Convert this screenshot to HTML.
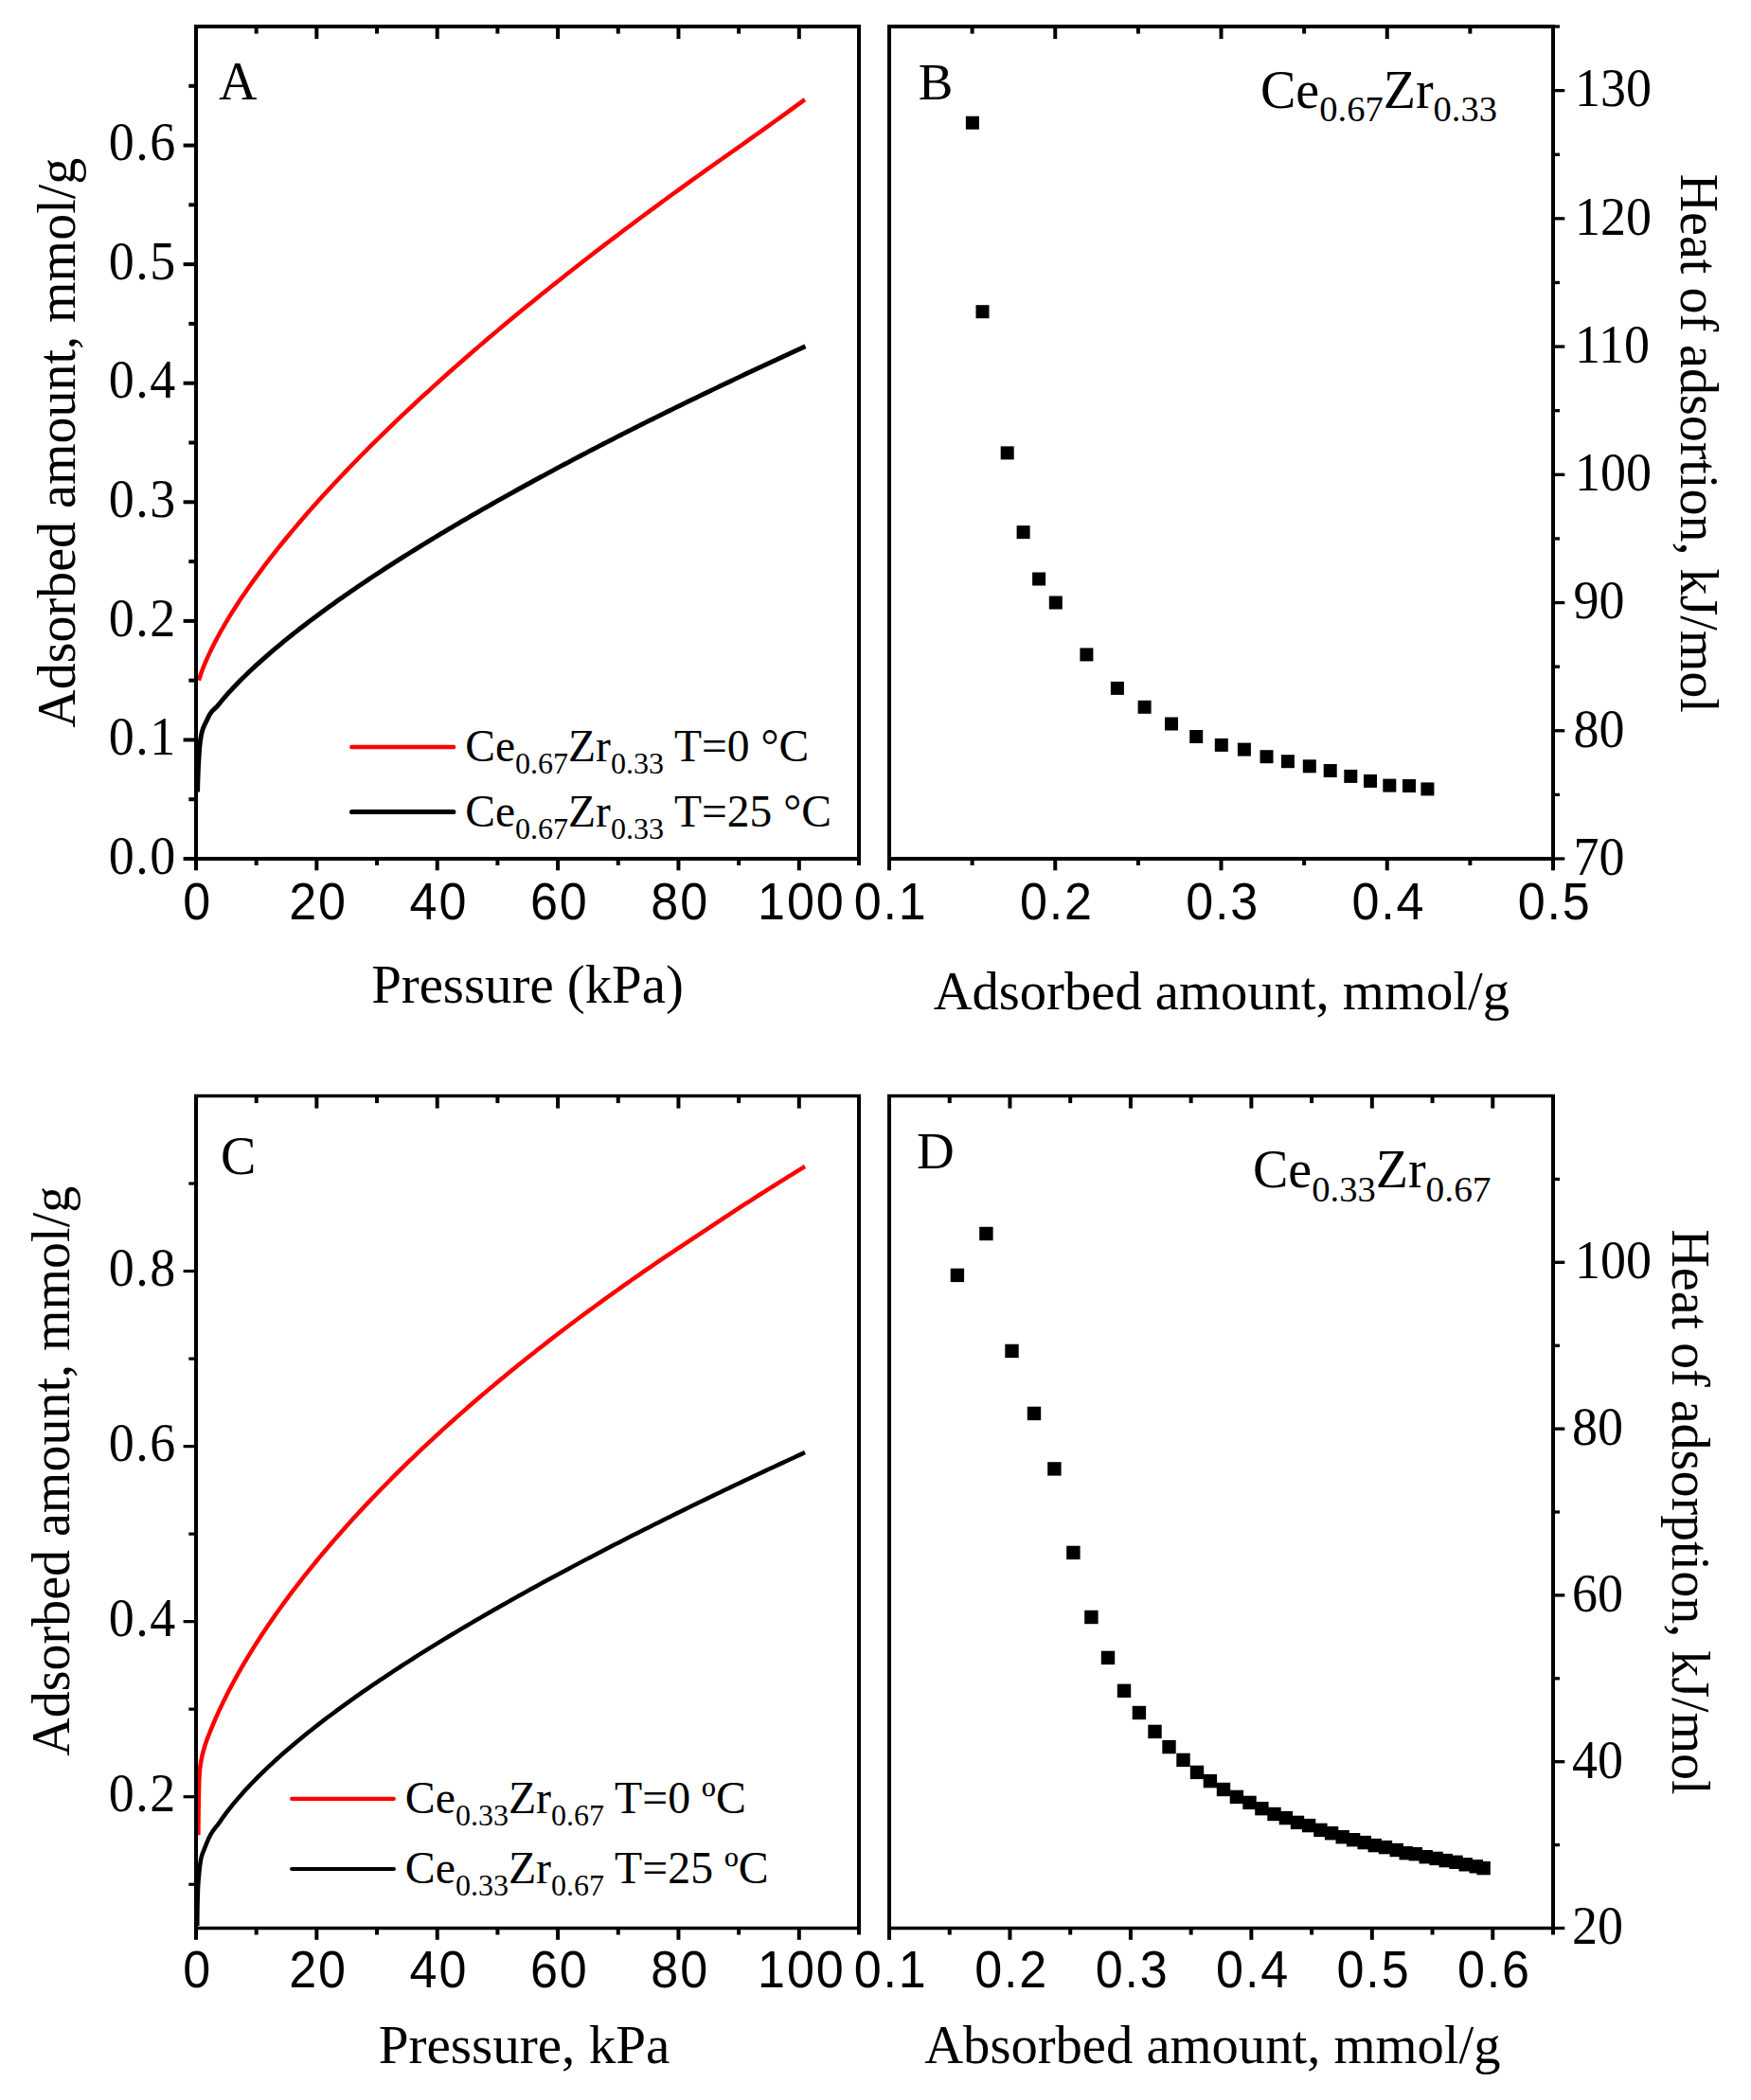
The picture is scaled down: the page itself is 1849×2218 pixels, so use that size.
<!DOCTYPE html>
<html lang="en"><head><meta charset="utf-8"><title>Adsorption isotherms and heat of adsorption</title>
<style>
html,body{margin:0;padding:0;background:#fff;}
svg{display:block;}
text{fill:#000;}
</style></head><body>
<svg width="1849" height="2218" viewBox="0 0 1849 2218">
<rect width="1849" height="2218" fill="#fff"/>
<text transform="translate(208.7 970.5) scale(0.94 1)" font-family='"Liberation Sans", sans-serif' font-size="55.4" text-anchor="middle" letter-spacing="1.97">0</text>
<text transform="translate(336.06 970.5) scale(0.94 1)" font-family='"Liberation Sans", sans-serif' font-size="55.4" text-anchor="middle" letter-spacing="1.97">20</text>
<text transform="translate(463.42 970.5) scale(0.94 1)" font-family='"Liberation Sans", sans-serif' font-size="55.4" text-anchor="middle" letter-spacing="1.97">40</text>
<text transform="translate(590.78 970.5) scale(0.94 1)" font-family='"Liberation Sans", sans-serif' font-size="55.4" text-anchor="middle" letter-spacing="1.97">60</text>
<text transform="translate(718.14 970.5) scale(0.94 1)" font-family='"Liberation Sans", sans-serif' font-size="55.4" text-anchor="middle" letter-spacing="1.97">80</text>
<text transform="translate(846.3 970.5) scale(0.94 1)" font-family='"Liberation Sans", sans-serif' font-size="55.4" text-anchor="middle" letter-spacing="1.97">100</text>
<text transform="translate(186.7 922.7) scale(0.975 1.04)" font-family='"Liberation Serif", serif' font-size="55.4" text-anchor="end" letter-spacing="1.5">0.0</text>
<text transform="translate(186.7 797.13) scale(0.975 1.04)" font-family='"Liberation Serif", serif' font-size="55.4" text-anchor="end" letter-spacing="1.5">0.1</text>
<text transform="translate(186.7 671.56) scale(0.975 1.04)" font-family='"Liberation Serif", serif' font-size="55.4" text-anchor="end" letter-spacing="1.5">0.2</text>
<text transform="translate(186.7 545.99) scale(0.975 1.04)" font-family='"Liberation Serif", serif' font-size="55.4" text-anchor="end" letter-spacing="1.5">0.3</text>
<text transform="translate(186.7 420.41) scale(0.975 1.04)" font-family='"Liberation Serif", serif' font-size="55.4" text-anchor="end" letter-spacing="1.5">0.4</text>
<text transform="translate(186.7 294.84) scale(0.975 1.04)" font-family='"Liberation Serif", serif' font-size="55.4" text-anchor="end" letter-spacing="1.5">0.5</text>
<text transform="translate(186.7 169.27) scale(0.975 1.04)" font-family='"Liberation Serif", serif' font-size="55.4" text-anchor="end" letter-spacing="1.5">0.6</text>
<text x="231" y="105" font-family='"Liberation Serif", serif' font-size="56" text-anchor="start">A</text>
<text x="557" y="1058.6" font-family='"Liberation Serif", serif' font-size="56.8" text-anchor="middle">Pressure (kPa)</text>
<text x="79" y="467.7" font-family='"Liberation Serif", serif' font-size="56" text-anchor="middle" transform="rotate(-90 79 467.7)">Adsorbed amount, mmol/g</text>
<path d="M209.9 718.62 L210.59 716.38 L211.29 714.25 L211.98 712.22 L212.68 710.26 L213.37 708.38 L214.07 706.55 L214.76 704.77 L215.46 703.04 L216.15 701.34 L216.85 699.69 L217.54 698.06 L218.24 696.47 L218.93 694.9 L219.63 693.36 L220.32 691.84 L221.02 690.35 L221.71 688.88 L222.41 687.42 L223.1 685.99 L223.8 684.57 L224.49 683.17 L225.19 681.79 L225.88 680.42 L226.58 679.07 L227.27 677.73 L227.97 676.4 L228.66 675.09 L229.36 673.78 L230.05 672.49 L230.75 671.21 L231.44 669.94 L232.14 668.69 L232.83 667.44 L233.53 666.2 L234.22 664.97 L234.92 663.75 L235.61 662.54 L236.31 661.34 L237 660.14 L238 658.44 L243.14 649.91 L248.28 641.73 L253.43 633.85 L258.57 626.21 L263.71 618.8 L268.85 611.59 L273.99 604.55 L279.14 597.67 L284.28 590.94 L289.42 584.34 L294.56 577.86 L299.7 571.49 L304.85 565.23 L309.99 559.07 L315.13 552.99 L320.27 547.01 L325.41 541.1 L330.56 535.28 L335.7 529.52 L340.84 523.84 L345.98 518.22 L351.12 512.66 L356.27 507.17 L361.41 501.73 L366.55 496.35 L371.69 491.02 L376.83 485.74 L381.98 480.5 L387.12 475.32 L392.26 470.18 L397.4 465.08 L402.54 460.03 L407.69 455.02 L412.83 450.04 L417.97 445.11 L423.11 440.21 L428.25 435.35 L433.4 430.52 L438.54 425.73 L443.68 420.97 L448.82 416.24 L453.96 411.54 L459.11 406.87 L464.25 402.23 L469.39 397.62 L474.53 393.04 L479.67 388.49 L484.82 383.96 L489.96 379.46 L495.1 374.98 L500.24 370.53 L505.38 366.11 L510.53 361.71 L515.67 357.33 L520.81 352.97 L525.95 348.64 L531.09 344.32 L536.24 340.03 L541.38 335.76 L546.52 331.51 L551.66 327.29 L556.81 323.08 L561.95 318.89 L567.09 314.72 L572.23 310.56 L577.37 306.43 L582.52 302.32 L587.66 298.22 L592.8 294.14 L597.94 290.08 L603.08 286.03 L608.23 282 L613.37 277.99 L618.51 273.99 L623.65 270.01 L628.79 266.05 L633.94 262.1 L639.08 258.16 L644.22 254.24 L649.36 250.34 L654.5 246.45 L659.65 242.57 L664.79 238.71 L669.93 234.86 L675.07 231.02 L680.21 227.2 L685.36 223.39 L690.5 219.6 L695.64 215.82 L700.78 212.05 L705.92 208.29 L711.07 204.54 L716.21 200.81 L721.35 197.09 L726.49 193.38 L731.63 189.69 L736.78 186 L741.92 182.33 L747.06 178.67 L752.2 175.02 L757.34 171.38 L762.49 167.75 L767.63 164.13 L772.77 160.51 L777.91 156.88 L783.05 153.25 L788.2 149.6 L793.34 145.95 L798.48 142.28 L803.62 138.61 L808.76 134.93 L813.91 131.24 L819.05 127.54 L824.19 123.83 L829.33 120.11 L834.47 116.38 L839.62 112.64 L844.76 108.89 L849.9 105.13" fill="none" stroke="#ff0000" stroke-width="4.5" stroke-linejoin="round"/>
<path d="M208.6 836.5 L208.68 832.34 L208.78 828.18 L208.91 824.01 L209.06 819.85 L209.22 815.7 L209.39 811.54 L209.59 807.38 L209.84 803.22 L210.1 799.07 L210.36 794.91 L210.66 790.76 L211.03 786.62 L211.53 782.48 L212.15 778.37 L212.96 774.27 L214.05 770.28 L215.65 766.45 L217.51 762.69 L219.33 758.91 L221.17 755.13 L223.41 751.73 L226.43 748.85 L229.41 745.91 L232.07 742.71 L234.68 739.46 L237.36 736.27 L240.12 733.16 L242.92 730.08 L245.75 727.03 L248.62 724.01 L251.52 721.02 L254.45 718.07 L257.4 715.13 L260.39 712.23 L263.39 709.35 L266.42 706.5 L269.47 703.66 L272.55 700.86 L275.64 698.07 L278.75 695.3 L281.88 692.56 L285.02 689.83 L288.18 687.12 L291.36 684.43 L294.55 681.76 L297.76 679.11 L300.98 676.47 L304.21 673.85 L307.46 671.24 L310.72 668.65 L313.99 666.08 L317.27 663.52 L320.56 660.97 L323.87 658.44 L327.18 655.92 L330.51 653.42 L333.84 650.93 L337.19 648.45 L340.54 645.98 L343.9 643.53 L347.27 641.08 L350.65 638.65 L354.04 636.23 L357.43 633.82 L360.83 631.43 L364.24 629.04 L367.66 626.66 L371.09 624.3 L374.52 621.94 L377.96 619.59 L381.4 617.26 L384.85 614.93 L388.31 612.61 L391.77 610.3 L395.24 608.01 L398.72 605.71 L402.2 603.43 L405.69 601.16 L409.18 598.89 L412.68 596.64 L416.18 594.39 L419.69 592.15 L423.2 589.92 L426.72 587.69 L430.24 585.48 L433.77 583.27 L437.3 581.06 L440.84 578.87 L444.38 576.68 L447.93 574.5 L451.48 572.33 L455.03 570.16 L458.59 568 L462.15 565.85 L465.72 563.7 L469.29 561.56 L472.86 559.43 L476.44 557.3 L480.02 555.18 L483.61 553.07 L487.2 550.96 L490.79 548.86 L494.39 546.76 L497.99 544.67 L501.59 542.59 L505.2 540.51 L508.81 538.44 L512.42 536.37 L516.03 534.31 L519.65 532.25 L523.28 530.2 L526.9 528.16 L530.53 526.12 L534.16 524.08 L537.79 522.05 L541.43 520.03 L545.07 518.01 L548.71 515.99 L552.36 513.98 L556.01 511.98 L559.66 509.98 L563.31 507.98 L566.97 505.99 L570.63 504.01 L574.29 502.03 L577.95 500.05 L581.62 498.08 L585.28 496.11 L588.96 494.15 L592.63 492.19 L596.3 490.24 L599.98 488.29 L603.66 486.34 L607.34 484.4 L611.03 482.46 L614.71 480.53 L618.4 478.6 L622.09 476.68 L625.79 474.76 L629.48 472.84 L633.18 470.93 L636.88 469.02 L640.58 467.12 L644.28 465.22 L647.99 463.32 L651.7 461.43 L655.41 459.54 L659.12 457.65 L662.83 455.77 L666.54 453.89 L670.26 452.02 L673.98 450.15 L677.7 448.28 L681.42 446.42 L685.15 444.56 L688.87 442.7 L692.6 440.85 L696.33 439 L700.06 437.15 L703.79 435.31 L707.52 433.47 L711.26 431.63 L715 429.8 L718.74 427.97 L722.48 426.14 L726.22 424.32 L729.96 422.5 L733.71 420.69 L737.45 418.87 L741.2 417.06 L744.95 415.25 L748.7 413.45 L752.46 411.65 L756.21 409.85 L759.97 408.06 L763.72 406.26 L767.48 404.47 L771.24 402.69 L775 400.91 L778.76 399.13 L782.53 397.35 L786.29 395.57 L790.06 393.8 L793.83 392.03 L797.6 390.27 L801.37 388.5 L805.14 386.74 L808.91 384.99 L812.69 383.23 L816.46 381.48 L820.24 379.73 L824.02 377.98 L827.8 376.24 L831.58 374.5 L835.36 372.76 L839.14 371.02 L842.93 369.29 L846.71 367.56 L850.5 365.83" fill="none" stroke="#000" stroke-width="4.9" stroke-linejoin="round" stroke-linecap="butt"/>
<line x1="371.3" y1="789" x2="479.1" y2="789" stroke="#ff0000" stroke-width="4.4" stroke-linecap="round"/>
<line x1="371.6" y1="857.5" x2="478.8" y2="857.5" stroke="#000" stroke-width="5.2" stroke-linecap="round"/>
<text x="491.25" y="804.2" font-family='"Liberation Serif", serif' font-size="47.5" text-anchor="start">Ce<tspan font-size="30.5" dy="12.8" textLength="56.1" lengthAdjust="spacingAndGlyphs">0.67</tspan><tspan dy="-12.8">Zr</tspan><tspan font-size="30.5" dy="12.8" textLength="56.1" lengthAdjust="spacingAndGlyphs">0.33</tspan><tspan dy="-12.8"> T=0 °C</tspan></text>
<text x="491.25" y="873" font-family='"Liberation Serif", serif' font-size="47.5" text-anchor="start">Ce<tspan font-size="30.5" dy="12.8" textLength="56.1" lengthAdjust="spacingAndGlyphs">0.67</tspan><tspan dy="-12.8">Zr</tspan><tspan font-size="30.5" dy="12.8" textLength="56.1" lengthAdjust="spacingAndGlyphs">0.33</tspan><tspan dy="-12.8"> T=25 °C</tspan></text>
<text transform="translate(940.7 970.5) scale(0.94 1)" font-family='"Liberation Sans", sans-serif' font-size="55.4" text-anchor="middle" letter-spacing="1.97">0.1</text>
<text transform="translate(1115.95 970.5) scale(0.94 1)" font-family='"Liberation Sans", sans-serif' font-size="55.4" text-anchor="middle" letter-spacing="1.97">0.2</text>
<text transform="translate(1291.2 970.5) scale(0.94 1)" font-family='"Liberation Sans", sans-serif' font-size="55.4" text-anchor="middle" letter-spacing="1.97">0.3</text>
<text transform="translate(1466.45 970.5) scale(0.94 1)" font-family='"Liberation Sans", sans-serif' font-size="55.4" text-anchor="middle" letter-spacing="1.97">0.4</text>
<text transform="translate(1641.7 970.5) scale(0.94 1)" font-family='"Liberation Sans", sans-serif' font-size="55.4" text-anchor="middle" letter-spacing="1.97">0.5</text>
<text transform="translate(1661.4 923.8) scale(0.975 1.04)" font-family='"Liberation Serif", serif' font-size="55.4" text-anchor="start">70</text>
<text transform="translate(1661.4 788.57) scale(0.975 1.04)" font-family='"Liberation Serif", serif' font-size="55.4" text-anchor="start">80</text>
<text transform="translate(1661.4 653.34) scale(0.975 1.04)" font-family='"Liberation Serif", serif' font-size="55.4" text-anchor="start">90</text>
<text transform="translate(1663 518.11) scale(0.975 1.04)" font-family='"Liberation Serif", serif' font-size="55.4" text-anchor="start">100</text>
<text transform="translate(1663 382.88) scale(0.975 1.04)" font-family='"Liberation Serif", serif' font-size="55.4" text-anchor="start">110</text>
<text transform="translate(1663 247.65) scale(0.975 1.04)" font-family='"Liberation Serif", serif' font-size="55.4" text-anchor="start">120</text>
<text transform="translate(1663 112.42) scale(0.975 1.04)" font-family='"Liberation Serif", serif' font-size="55.4" text-anchor="start">130</text>
<text x="969.7" y="105.4" font-family='"Liberation Serif", serif' font-size="55" text-anchor="start">B</text>
<text x="1331" y="114" font-family='"Liberation Serif", serif' font-size="56" text-anchor="start">Ce<tspan font-size="37.5" dy="14.4" textLength="67.5" lengthAdjust="spacingAndGlyphs">0.67</tspan><tspan dy="-14.4">Zr</tspan><tspan font-size="37.5" dy="14.4" textLength="67.5" lengthAdjust="spacingAndGlyphs">0.33</tspan></text>
<text x="1289.8" y="1065.5" font-family='"Liberation Serif", serif' font-size="56.6" text-anchor="middle">Adsorbed amount, mmol/g</text>
<text x="1774.9" y="468.3" font-family='"Liberation Serif", serif' font-size="56" text-anchor="middle" transform="rotate(90 1774.9 468.3)">Heat of adsortion, kJ/mol</text>
<rect x="1019.9" y="122.7" width="14" height="14" fill="#000"/>
<rect x="1030.5" y="322.2" width="14" height="14" fill="#000"/>
<rect x="1056.7" y="471.4" width="14" height="14" fill="#000"/>
<rect x="1073.6" y="555.1" width="14" height="14" fill="#000"/>
<rect x="1090.1" y="604.5" width="14" height="14" fill="#000"/>
<rect x="1107.8" y="629.5" width="14" height="14" fill="#000"/>
<rect x="1140.4" y="684.4" width="14" height="14" fill="#000"/>
<rect x="1172.9" y="719.9" width="14" height="14" fill="#000"/>
<rect x="1201.6" y="739.8" width="14" height="14" fill="#000"/>
<rect x="1230" y="757.5" width="14" height="14" fill="#000"/>
<rect x="1256.2" y="771" width="14" height="14" fill="#000"/>
<rect x="1282.8" y="779.9" width="14" height="14" fill="#000"/>
<rect x="1306.9" y="784.6" width="14" height="14" fill="#000"/>
<rect x="1330.5" y="792.2" width="14" height="14" fill="#000"/>
<rect x="1352.9" y="797.2" width="14" height="14" fill="#000"/>
<rect x="1375.8" y="802.3" width="14" height="14" fill="#000"/>
<rect x="1397.7" y="807" width="14" height="14" fill="#000"/>
<rect x="1419.3" y="812.9" width="14" height="14" fill="#000"/>
<rect x="1440" y="817.9" width="14" height="14" fill="#000"/>
<rect x="1460.3" y="822.6" width="14" height="14" fill="#000"/>
<rect x="1481" y="823" width="14" height="14" fill="#000"/>
<rect x="1500.4" y="826.4" width="14" height="14" fill="#000"/>
<text transform="translate(208.7 2099) scale(0.94 1)" font-family='"Liberation Sans", sans-serif' font-size="55.4" text-anchor="middle" letter-spacing="1.97">0</text>
<text transform="translate(336.06 2099) scale(0.94 1)" font-family='"Liberation Sans", sans-serif' font-size="55.4" text-anchor="middle" letter-spacing="1.97">20</text>
<text transform="translate(463.42 2099) scale(0.94 1)" font-family='"Liberation Sans", sans-serif' font-size="55.4" text-anchor="middle" letter-spacing="1.97">40</text>
<text transform="translate(590.78 2099) scale(0.94 1)" font-family='"Liberation Sans", sans-serif' font-size="55.4" text-anchor="middle" letter-spacing="1.97">60</text>
<text transform="translate(718.14 2099) scale(0.94 1)" font-family='"Liberation Sans", sans-serif' font-size="55.4" text-anchor="middle" letter-spacing="1.97">80</text>
<text transform="translate(846.3 2099) scale(0.94 1)" font-family='"Liberation Sans", sans-serif' font-size="55.4" text-anchor="middle" letter-spacing="1.97">100</text>
<text transform="translate(186.7 1913.41) scale(0.975 1.04)" font-family='"Liberation Serif", serif' font-size="55.4" text-anchor="end" letter-spacing="1.5">0.2</text>
<text transform="translate(186.7 1728.36) scale(0.975 1.04)" font-family='"Liberation Serif", serif' font-size="55.4" text-anchor="end" letter-spacing="1.5">0.4</text>
<text transform="translate(186.7 1543.31) scale(0.975 1.04)" font-family='"Liberation Serif", serif' font-size="55.4" text-anchor="end" letter-spacing="1.5">0.6</text>
<text transform="translate(186.7 1358.25) scale(0.975 1.04)" font-family='"Liberation Serif", serif' font-size="55.4" text-anchor="end" letter-spacing="1.5">0.8</text>
<text x="233" y="1240.3" font-family='"Liberation Serif", serif' font-size="56" text-anchor="start">C</text>
<text x="553.5" y="2179.2" font-family='"Liberation Serif", serif' font-size="57.1" text-anchor="middle">Pressure, kPa</text>
<text x="73" y="1553.75" font-family='"Liberation Serif", serif' font-size="56" text-anchor="middle" transform="rotate(-90 73 1553.75)">Adsorbed amount, mmol/g</text>
<path d="M209.4 1938.2 L209.41 1933.22 L209.44 1928.25 L209.49 1923.27 L209.55 1918.3 L209.62 1913.32 L209.7 1908.35 L209.79 1903.37 L209.88 1898.4 L209.97 1893.42 L210.08 1888.44 L210.23 1883.46 L210.41 1878.49 L210.64 1873.53 L211.04 1868.58 L211.73 1863.64 L212.6 1858.73 L213.57 1853.86 L214.81 1849.04 L216.24 1844.26 L217.79 1839.55 L219.52 1834.88 L221.35 1830.24 L223.19 1825.62 L225.08 1821.02 L227.04 1816.44 L229.04 1811.89 L231.09 1807.36 L233.2 1802.85 L235.34 1798.36 L237.54 1793.89 L239.77 1789.44 L242.04 1785.02 L244.36 1780.61 L246.71 1776.23 L249.1 1771.86 L251.52 1767.52 L253.98 1763.19 L256.47 1758.88 L258.99 1754.6 L261.55 1750.33 L264.14 1746.08 L266.75 1741.85 L269.4 1737.63 L272.07 1733.44 L274.78 1729.26 L277.51 1725.1 L280.26 1720.96 L283.05 1716.83 L285.85 1712.72 L288.68 1708.63 L291.54 1704.56 L294.42 1700.5 L297.32 1696.46 L300.25 1692.44 L303.2 1688.43 L306.17 1684.44 L309.16 1680.46 L312.17 1676.5 L315.2 1672.56 L318.26 1668.63 L321.33 1664.71 L324.42 1660.82 L327.53 1656.93 L330.66 1653.07 L333.81 1649.21 L336.98 1645.37 L340.16 1641.55 L343.36 1637.74 L346.58 1633.95 L349.81 1630.17 L353.07 1626.4 L356.33 1622.65 L359.62 1618.91 L362.92 1615.19 L366.23 1611.48 L369.56 1607.78 L372.91 1604.1 L376.27 1600.43 L379.64 1596.77 L383.03 1593.13 L386.44 1589.5 L389.85 1585.88 L393.28 1582.28 L396.73 1578.69 L400.19 1575.11 L403.66 1571.55 L407.14 1568 L410.64 1564.46 L414.15 1560.93 L417.67 1557.41 L421.2 1553.91 L424.75 1550.42 L428.3 1546.94 L431.87 1543.47 L435.45 1540.02 L439.05 1536.58 L442.65 1533.15 L446.26 1529.73 L449.89 1526.32 L453.53 1522.92 L457.17 1519.54 L460.83 1516.17 L464.5 1512.81 L468.18 1509.45 L471.87 1506.12 L475.56 1502.79 L479.27 1499.47 L482.99 1496.16 L486.72 1492.87 L490.46 1489.58 L494.2 1486.31 L497.96 1483.05 L501.72 1479.79 L505.5 1476.55 L509.28 1473.32 L513.07 1470.1 L516.87 1466.89 L520.68 1463.69 L524.5 1460.5 L528.33 1457.32 L532.16 1454.15 L536.01 1450.99 L539.86 1447.84 L543.72 1444.7 L547.58 1441.57 L551.46 1438.45 L555.34 1435.34 L559.23 1432.24 L563.13 1429.15 L567.04 1426.06 L570.95 1422.99 L574.87 1419.93 L578.8 1416.88 L582.74 1413.83 L586.68 1410.8 L590.63 1407.77 L594.59 1404.75 L598.55 1401.75 L602.52 1398.75 L606.5 1395.76 L610.48 1392.78 L614.47 1389.81 L618.47 1386.85 L622.48 1383.89 L626.49 1380.95 L630.5 1378.01 L634.53 1375.09 L638.56 1372.17 L642.59 1369.26 L646.64 1366.36 L650.68 1363.46 L654.74 1360.58 L658.8 1357.7 L662.86 1354.84 L666.94 1351.98 L671.01 1349.13 L675.1 1346.28 L679.19 1343.45 L683.28 1340.62 L687.38 1337.8 L691.49 1334.99 L695.6 1332.19 L699.71 1329.4 L703.84 1326.61 L707.96 1323.83 L712.1 1321.06 L716.23 1318.3 L720.38 1315.54 L724.53 1312.8 L728.68 1310.06 L732.84 1307.32 L737 1304.6 L741.15 1301.86 L745.29 1299.09 L749.42 1296.32 L753.56 1293.56 L757.7 1290.81 L761.85 1288.06 L766.01 1285.32 L770.17 1282.59 L774.33 1279.86 L778.5 1277.15 L782.67 1274.44 L786.84 1271.73 L791.02 1269.03 L795.21 1266.34 L799.4 1263.66 L803.59 1260.98 L807.79 1258.31 L811.99 1255.65 L816.2 1252.99 L820.41 1250.34 L824.63 1247.7 L828.84 1245.06 L833.07 1242.43 L837.29 1239.8 L841.53 1237.19 L845.76 1234.57 L850 1231.97" fill="none" stroke="#ff0000" stroke-width="4.5" stroke-linejoin="round" stroke-linecap="butt"/>
<path d="M208.3 2034 L208.31 2029.71 L208.34 2025.43 L208.39 2021.15 L208.46 2016.87 L208.54 2012.59 L208.64 2008.31 L208.75 2004.03 L208.87 1999.76 L209.01 1995.49 L209.21 1991.21 L209.52 1986.94 L209.89 1982.67 L210.28 1978.41 L210.7 1974.13 L211.2 1969.86 L211.81 1965.63 L212.62 1961.48 L213.95 1957.42 L215.58 1953.42 L217.17 1949.44 L218.79 1945.44 L220.5 1941.49 L222.4 1937.68 L224.61 1934.08 L227.2 1930.67 L229.9 1927.3 L232.44 1923.85 L234.88 1920.34 L237.37 1916.85 L239.94 1913.43 L242.57 1910.05 L245.24 1906.71 L247.96 1903.4 L250.72 1900.13 L253.53 1896.9 L256.36 1893.69 L259.24 1890.52 L262.15 1887.39 L265.09 1884.28 L268.06 1881.2 L271.07 1878.14 L274.09 1875.12 L277.15 1872.12 L280.23 1869.15 L283.33 1866.2 L286.46 1863.28 L289.61 1860.38 L292.77 1857.5 L295.96 1854.64 L299.17 1851.81 L302.39 1848.99 L305.64 1846.2 L308.89 1843.43 L312.17 1840.67 L315.46 1837.93 L318.77 1835.22 L322.09 1832.51 L325.42 1829.83 L328.77 1827.16 L332.13 1824.51 L335.5 1821.88 L338.89 1819.26 L342.28 1816.65 L345.69 1814.06 L349.11 1811.49 L352.54 1808.93 L355.98 1806.38 L359.43 1803.84 L362.89 1801.32 L366.35 1798.82 L369.83 1796.32 L373.32 1793.84 L376.81 1791.37 L380.32 1788.91 L383.83 1786.46 L387.35 1784.03 L390.87 1781.6 L394.41 1779.19 L397.95 1776.78 L401.5 1774.39 L405.06 1772.01 L408.62 1769.64 L412.19 1767.28 L415.76 1764.92 L419.35 1762.58 L422.93 1760.25 L426.53 1757.92 L430.13 1755.61 L433.73 1753.3 L437.35 1751.01 L440.96 1748.72 L444.58 1746.44 L448.21 1744.17 L451.84 1741.9 L455.48 1739.65 L459.12 1737.4 L462.77 1735.16 L466.42 1732.93 L470.08 1730.7 L473.74 1728.49 L477.41 1726.28 L481.08 1724.07 L484.75 1721.88 L488.43 1719.69 L492.11 1717.51 L495.8 1715.34 L499.49 1713.17 L503.19 1711.01 L506.88 1708.85 L510.59 1706.71 L514.29 1704.56 L518 1702.43 L521.71 1700.3 L525.43 1698.18 L529.15 1696.06 L532.87 1693.95 L536.6 1691.84 L540.33 1689.74 L544.06 1687.65 L547.8 1685.56 L551.54 1683.48 L555.28 1681.4 L559.03 1679.33 L562.78 1677.27 L566.53 1675.21 L570.28 1673.15 L574.04 1671.1 L577.8 1669.05 L581.56 1667.01 L585.33 1664.98 L589.09 1662.95 L592.87 1660.92 L596.64 1658.9 L600.41 1656.89 L604.19 1654.88 L607.97 1652.87 L611.76 1650.87 L615.54 1648.87 L619.33 1646.88 L623.12 1644.89 L626.91 1642.91 L630.71 1640.93 L634.5 1638.95 L638.3 1636.98 L642.1 1635.01 L645.91 1633.05 L649.71 1631.09 L653.52 1629.14 L657.33 1627.19 L661.14 1625.24 L664.96 1623.3 L668.77 1621.36 L672.59 1619.43 L676.41 1617.49 L680.23 1615.57 L684.06 1613.64 L687.88 1611.73 L691.71 1609.81 L695.54 1607.9 L699.37 1605.99 L703.2 1604.08 L707.04 1602.18 L710.87 1600.29 L714.71 1598.39 L718.55 1596.5 L722.39 1594.61 L726.24 1592.73 L730.08 1590.85 L733.93 1588.97 L737.78 1587.1 L741.63 1585.23 L745.48 1583.36 L749.33 1581.49 L753.18 1579.63 L757.04 1577.78 L760.9 1575.92 L764.76 1574.07 L768.62 1572.22 L772.48 1570.38 L776.34 1568.53 L780.21 1566.69 L784.07 1564.86 L787.94 1563.02 L791.81 1561.19 L795.68 1559.37 L799.55 1557.54 L803.42 1555.72 L807.3 1553.9 L811.17 1552.08 L815.05 1550.27 L818.93 1548.46 L822.81 1546.65 L826.69 1544.85 L830.57 1543.04 L834.45 1541.24 L838.34 1539.45 L842.22 1537.65 L846.11 1535.86 L850 1534.07" fill="none" stroke="#000" stroke-width="4.5" stroke-linejoin="round" stroke-linecap="butt"/>
<line x1="308.2" y1="1899.9" x2="415.8" y2="1899.9" stroke="#ff0000" stroke-width="4.2" stroke-linecap="round"/>
<line x1="308.1" y1="1974" x2="415.9" y2="1974" stroke="#000" stroke-width="4.1" stroke-linecap="round"/>
<text x="427.8" y="1914.8" font-family='"Liberation Serif", serif' font-size="47.8" text-anchor="start">Ce<tspan font-size="30.5" dy="12.8" textLength="56" lengthAdjust="spacingAndGlyphs">0.33</tspan><tspan dy="-12.8">Zr</tspan><tspan font-size="30.5" dy="12.8" textLength="56" lengthAdjust="spacingAndGlyphs">0.67</tspan><tspan dy="-12.8"> T=0 ºC</tspan></text>
<text x="427.8" y="1989.1" font-family='"Liberation Serif", serif' font-size="47.8" text-anchor="start">Ce<tspan font-size="30.5" dy="12.8" textLength="56" lengthAdjust="spacingAndGlyphs">0.33</tspan><tspan dy="-12.8">Zr</tspan><tspan font-size="30.5" dy="12.8" textLength="56" lengthAdjust="spacingAndGlyphs">0.67</tspan><tspan dy="-12.8"> T=25 ºC</tspan></text>
<text transform="translate(940.7 2099) scale(0.94 1)" font-family='"Liberation Sans", sans-serif' font-size="55.4" text-anchor="middle" letter-spacing="1.97">0.1</text>
<text transform="translate(1068.15 2099) scale(0.94 1)" font-family='"Liberation Sans", sans-serif' font-size="55.4" text-anchor="middle" letter-spacing="1.97">0.2</text>
<text transform="translate(1195.61 2099) scale(0.94 1)" font-family='"Liberation Sans", sans-serif' font-size="55.4" text-anchor="middle" letter-spacing="1.97">0.3</text>
<text transform="translate(1323.06 2099) scale(0.94 1)" font-family='"Liberation Sans", sans-serif' font-size="55.4" text-anchor="middle" letter-spacing="1.97">0.4</text>
<text transform="translate(1450.52 2099) scale(0.94 1)" font-family='"Liberation Sans", sans-serif' font-size="55.4" text-anchor="middle" letter-spacing="1.97">0.5</text>
<text transform="translate(1577.97 2099) scale(0.94 1)" font-family='"Liberation Sans", sans-serif' font-size="55.4" text-anchor="middle" letter-spacing="1.97">0.6</text>
<text transform="translate(1660 2053.3) scale(0.975 1.04)" font-family='"Liberation Serif", serif' font-size="55.4" text-anchor="start">20</text>
<text transform="translate(1660 1877.5) scale(0.975 1.04)" font-family='"Liberation Serif", serif' font-size="55.4" text-anchor="start">40</text>
<text transform="translate(1660 1701.7) scale(0.975 1.04)" font-family='"Liberation Serif", serif' font-size="55.4" text-anchor="start">60</text>
<text transform="translate(1660 1525.9) scale(0.975 1.04)" font-family='"Liberation Serif", serif' font-size="55.4" text-anchor="start">80</text>
<text transform="translate(1663 1350.1) scale(0.975 1.04)" font-family='"Liberation Serif", serif' font-size="55.4" text-anchor="start">100</text>
<text x="968" y="1233.9" font-family='"Liberation Serif", serif' font-size="55" text-anchor="start">D</text>
<text x="1323" y="1254.3" font-family='"Liberation Serif", serif' font-size="56" text-anchor="start">Ce<tspan font-size="37.5" dy="14.4" textLength="67.5" lengthAdjust="spacingAndGlyphs">0.33</tspan><tspan dy="-14.4">Zr</tspan><tspan font-size="37.5" dy="14.4" textLength="69" lengthAdjust="spacingAndGlyphs">0.67</tspan></text>
<text x="1280.4" y="2179.2" font-family='"Liberation Serif", serif' font-size="56.6" text-anchor="middle">Absorbed amount, mmol/g</text>
<text x="1766" y="1597" font-family='"Liberation Serif", serif' font-size="56" text-anchor="middle" transform="rotate(90 1766 1597)">Heat of adsorption, kJ/mol</text>
<rect x="1003.7" y="1339.7" width="14.4" height="14.4" fill="#000"/>
<rect x="1034.2" y="1295.8" width="14.4" height="14.4" fill="#000"/>
<rect x="1061.3" y="1419.7" width="14.4" height="14.4" fill="#000"/>
<rect x="1084.8" y="1485.7" width="14.4" height="14.4" fill="#000"/>
<rect x="1106.2" y="1544.2" width="14.4" height="14.4" fill="#000"/>
<rect x="1126.2" y="1632.7" width="14.4" height="14.4" fill="#000"/>
<rect x="1145.2" y="1700.8" width="14.4" height="14.4" fill="#000"/>
<rect x="1162.8" y="1743.7" width="14.4" height="14.4" fill="#000"/>
<rect x="1179.8" y="1778.6" width="14.4" height="14.4" fill="#000"/>
<rect x="1195.7" y="1801.8" width="14.4" height="14.4" fill="#000"/>
<rect x="1212.3" y="1821.7" width="14.4" height="14.4" fill="#000"/>
<rect x="1227.3" y="1837.9" width="14.4" height="14.4" fill="#000"/>
<rect x="1242.3" y="1851.7" width="14.4" height="14.4" fill="#000"/>
<rect x="1256.8" y="1864.7" width="14.4" height="14.4" fill="#000"/>
<rect x="1270.7" y="1873.9" width="14.4" height="14.4" fill="#000"/>
<rect x="1284.8" y="1882.8" width="14.4" height="14.4" fill="#000"/>
<rect x="1298.7" y="1890.7" width="14.4" height="14.4" fill="#000"/>
<rect x="1312.3" y="1896.7" width="14.4" height="14.4" fill="#000"/>
<rect x="1325.2" y="1903" width="14.4" height="14.4" fill="#000"/>
<rect x="1338.3" y="1908.8" width="14.4" height="14.4" fill="#000"/>
<rect x="1350.7" y="1912.9" width="14.4" height="14.4" fill="#000"/>
<rect x="1362.8" y="1917.7" width="14.4" height="14.4" fill="#000"/>
<rect x="1374.9" y="1920.9" width="14.4" height="14.4" fill="#000"/>
<rect x="1387.2" y="1925.7" width="14.4" height="14.4" fill="#000"/>
<rect x="1398.9" y="1929" width="14.4" height="14.4" fill="#000"/>
<rect x="1410.5" y="1933" width="14.4" height="14.4" fill="#000"/>
<rect x="1421.9" y="1936" width="14.4" height="14.4" fill="#000"/>
<rect x="1433.5" y="1938.9" width="14.4" height="14.4" fill="#000"/>
<rect x="1444.6" y="1941.9" width="14.4" height="14.4" fill="#000"/>
<rect x="1455.7" y="1943.9" width="14.4" height="14.4" fill="#000"/>
<rect x="1467.5" y="1946.8" width="14.4" height="14.4" fill="#000"/>
<rect x="1477.5" y="1950" width="14.4" height="14.4" fill="#000"/>
<rect x="1487.6" y="1951" width="14.4" height="14.4" fill="#000"/>
<rect x="1498.5" y="1954" width="14.4" height="14.4" fill="#000"/>
<rect x="1509.4" y="1955.7" width="14.4" height="14.4" fill="#000"/>
<rect x="1519.5" y="1957.9" width="14.4" height="14.4" fill="#000"/>
<rect x="1530.3" y="1959.6" width="14.4" height="14.4" fill="#000"/>
<rect x="1540.5" y="1962.1" width="14.4" height="14.4" fill="#000"/>
<rect x="1551.6" y="1964.1" width="14.4" height="14.4" fill="#000"/>
<rect x="1559.4" y="1965.9" width="14.4" height="14.4" fill="#000"/>
<line x1="205" y1="28" x2="909" y2="28" stroke="#000" stroke-width="4.0"/>
<line x1="205" y1="907" x2="909" y2="907" stroke="#000" stroke-width="4.0"/>
<line x1="207" y1="28" x2="207" y2="907" stroke="#000" stroke-width="4.0"/>
<line x1="907" y1="28" x2="907" y2="907" stroke="#000" stroke-width="4.0"/>
<line x1="270.68" y1="907" x2="270.68" y2="914" stroke="#000" stroke-width="4"/>
<line x1="270.68" y1="28" x2="270.68" y2="35.6" stroke="#000" stroke-width="4"/>
<line x1="398.04" y1="907" x2="398.04" y2="914" stroke="#000" stroke-width="4"/>
<line x1="398.04" y1="28" x2="398.04" y2="35.6" stroke="#000" stroke-width="4"/>
<line x1="525.4" y1="907" x2="525.4" y2="914" stroke="#000" stroke-width="4"/>
<line x1="525.4" y1="28" x2="525.4" y2="35.6" stroke="#000" stroke-width="4"/>
<line x1="652.76" y1="907" x2="652.76" y2="914" stroke="#000" stroke-width="4"/>
<line x1="652.76" y1="28" x2="652.76" y2="35.6" stroke="#000" stroke-width="4"/>
<line x1="780.12" y1="907" x2="780.12" y2="914" stroke="#000" stroke-width="4"/>
<line x1="780.12" y1="28" x2="780.12" y2="35.6" stroke="#000" stroke-width="4"/>
<line x1="906.97" y1="907" x2="906.97" y2="914" stroke="#000" stroke-width="4"/>
<line x1="906.97" y1="28" x2="906.97" y2="35.6" stroke="#000" stroke-width="4"/>
<line x1="207" y1="907" x2="207" y2="919.3" stroke="#000" stroke-width="4"/>
<line x1="207" y1="28" x2="207" y2="41.1" stroke="#000" stroke-width="4"/>
<line x1="334.36" y1="907" x2="334.36" y2="919.3" stroke="#000" stroke-width="4"/>
<line x1="334.36" y1="28" x2="334.36" y2="41.1" stroke="#000" stroke-width="4"/>
<line x1="461.72" y1="907" x2="461.72" y2="919.3" stroke="#000" stroke-width="4"/>
<line x1="461.72" y1="28" x2="461.72" y2="41.1" stroke="#000" stroke-width="4"/>
<line x1="589.08" y1="907" x2="589.08" y2="919.3" stroke="#000" stroke-width="4"/>
<line x1="589.08" y1="28" x2="589.08" y2="41.1" stroke="#000" stroke-width="4"/>
<line x1="716.44" y1="907" x2="716.44" y2="919.3" stroke="#000" stroke-width="4"/>
<line x1="716.44" y1="28" x2="716.44" y2="41.1" stroke="#000" stroke-width="4"/>
<line x1="843.8" y1="907" x2="843.8" y2="919.3" stroke="#000" stroke-width="4"/>
<line x1="843.8" y1="28" x2="843.8" y2="41.1" stroke="#000" stroke-width="4"/>
<line x1="207" y1="844.21" x2="199.3" y2="844.21" stroke="#000" stroke-width="4.0"/>
<line x1="207" y1="718.64" x2="199.3" y2="718.64" stroke="#000" stroke-width="4.0"/>
<line x1="207" y1="593.07" x2="199.3" y2="593.07" stroke="#000" stroke-width="4.0"/>
<line x1="207" y1="467.5" x2="199.3" y2="467.5" stroke="#000" stroke-width="4.0"/>
<line x1="207" y1="341.93" x2="199.3" y2="341.93" stroke="#000" stroke-width="4.0"/>
<line x1="207" y1="216.36" x2="199.3" y2="216.36" stroke="#000" stroke-width="4.0"/>
<line x1="207" y1="90.79" x2="199.3" y2="90.79" stroke="#000" stroke-width="4.0"/>
<line x1="207" y1="907" x2="193.6" y2="907" stroke="#000" stroke-width="4.0"/>
<line x1="207" y1="781.43" x2="193.6" y2="781.43" stroke="#000" stroke-width="4.0"/>
<line x1="207" y1="655.86" x2="193.6" y2="655.86" stroke="#000" stroke-width="4.0"/>
<line x1="207" y1="530.29" x2="193.6" y2="530.29" stroke="#000" stroke-width="4.0"/>
<line x1="207" y1="404.71" x2="193.6" y2="404.71" stroke="#000" stroke-width="4.0"/>
<line x1="207" y1="279.14" x2="193.6" y2="279.14" stroke="#000" stroke-width="4.0"/>
<line x1="207" y1="153.57" x2="193.6" y2="153.57" stroke="#000" stroke-width="4.0"/>
<line x1="937" y1="28" x2="1642" y2="28" stroke="#000" stroke-width="4.0"/>
<line x1="937" y1="907" x2="1642" y2="907" stroke="#000" stroke-width="4.0"/>
<line x1="939" y1="28" x2="939" y2="907" stroke="#000" stroke-width="4.0"/>
<line x1="1640" y1="28" x2="1640" y2="907" stroke="#000" stroke-width="4.0"/>
<line x1="1026.62" y1="907" x2="1026.62" y2="914" stroke="#000" stroke-width="4"/>
<line x1="1026.62" y1="28" x2="1026.62" y2="35.6" stroke="#000" stroke-width="4"/>
<line x1="1201.88" y1="907" x2="1201.88" y2="914" stroke="#000" stroke-width="4"/>
<line x1="1201.88" y1="28" x2="1201.88" y2="35.6" stroke="#000" stroke-width="4"/>
<line x1="1377.12" y1="907" x2="1377.12" y2="914" stroke="#000" stroke-width="4"/>
<line x1="1377.12" y1="28" x2="1377.12" y2="35.6" stroke="#000" stroke-width="4"/>
<line x1="1552.38" y1="907" x2="1552.38" y2="914" stroke="#000" stroke-width="4"/>
<line x1="1552.38" y1="28" x2="1552.38" y2="35.6" stroke="#000" stroke-width="4"/>
<line x1="939" y1="907" x2="939" y2="919.3" stroke="#000" stroke-width="4"/>
<line x1="939" y1="28" x2="939" y2="41.1" stroke="#000" stroke-width="4"/>
<line x1="1114.25" y1="907" x2="1114.25" y2="919.3" stroke="#000" stroke-width="4"/>
<line x1="1114.25" y1="28" x2="1114.25" y2="41.1" stroke="#000" stroke-width="4"/>
<line x1="1289.5" y1="907" x2="1289.5" y2="919.3" stroke="#000" stroke-width="4"/>
<line x1="1289.5" y1="28" x2="1289.5" y2="41.1" stroke="#000" stroke-width="4"/>
<line x1="1464.75" y1="907" x2="1464.75" y2="919.3" stroke="#000" stroke-width="4"/>
<line x1="1464.75" y1="28" x2="1464.75" y2="41.1" stroke="#000" stroke-width="4"/>
<line x1="1640" y1="907" x2="1640" y2="919.3" stroke="#000" stroke-width="4"/>
<line x1="1640" y1="28" x2="1640" y2="41.1" stroke="#000" stroke-width="4"/>
<line x1="1640" y1="839.38" x2="1647" y2="839.38" stroke="#000" stroke-width="3.3"/>
<line x1="1640" y1="704.15" x2="1647" y2="704.15" stroke="#000" stroke-width="3.3"/>
<line x1="1640" y1="568.92" x2="1647" y2="568.92" stroke="#000" stroke-width="3.3"/>
<line x1="1640" y1="433.69" x2="1647" y2="433.69" stroke="#000" stroke-width="3.3"/>
<line x1="1640" y1="298.46" x2="1647" y2="298.46" stroke="#000" stroke-width="3.3"/>
<line x1="1640" y1="163.23" x2="1647" y2="163.23" stroke="#000" stroke-width="3.3"/>
<line x1="1640" y1="28" x2="1647" y2="28" stroke="#000" stroke-width="3.3"/>
<line x1="1640" y1="907" x2="1652.3" y2="907" stroke="#000" stroke-width="3.3"/>
<line x1="1640" y1="771.77" x2="1652.3" y2="771.77" stroke="#000" stroke-width="3.3"/>
<line x1="1640" y1="636.54" x2="1652.3" y2="636.54" stroke="#000" stroke-width="3.3"/>
<line x1="1640" y1="501.31" x2="1652.3" y2="501.31" stroke="#000" stroke-width="3.3"/>
<line x1="1640" y1="366.08" x2="1652.3" y2="366.08" stroke="#000" stroke-width="3.3"/>
<line x1="1640" y1="230.85" x2="1652.3" y2="230.85" stroke="#000" stroke-width="3.3"/>
<line x1="1640" y1="95.62" x2="1652.3" y2="95.62" stroke="#000" stroke-width="3.3"/>
<line x1="205" y1="1157.5" x2="909" y2="1157.5" stroke="#000" stroke-width="3.5"/>
<line x1="205" y1="2036.5" x2="909" y2="2036.5" stroke="#000" stroke-width="3.5"/>
<line x1="207" y1="1157.5" x2="207" y2="2036.5" stroke="#000" stroke-width="4.0"/>
<line x1="907" y1="1157.5" x2="907" y2="2036.5" stroke="#000" stroke-width="4.0"/>
<line x1="270.68" y1="2036.5" x2="270.68" y2="2043.5" stroke="#000" stroke-width="4"/>
<line x1="270.68" y1="1157.5" x2="270.68" y2="1165.1" stroke="#000" stroke-width="4"/>
<line x1="398.04" y1="2036.5" x2="398.04" y2="2043.5" stroke="#000" stroke-width="4"/>
<line x1="398.04" y1="1157.5" x2="398.04" y2="1165.1" stroke="#000" stroke-width="4"/>
<line x1="525.4" y1="2036.5" x2="525.4" y2="2043.5" stroke="#000" stroke-width="4"/>
<line x1="525.4" y1="1157.5" x2="525.4" y2="1165.1" stroke="#000" stroke-width="4"/>
<line x1="652.76" y1="2036.5" x2="652.76" y2="2043.5" stroke="#000" stroke-width="4"/>
<line x1="652.76" y1="1157.5" x2="652.76" y2="1165.1" stroke="#000" stroke-width="4"/>
<line x1="780.12" y1="2036.5" x2="780.12" y2="2043.5" stroke="#000" stroke-width="4"/>
<line x1="780.12" y1="1157.5" x2="780.12" y2="1165.1" stroke="#000" stroke-width="4"/>
<line x1="906.97" y1="2036.5" x2="906.97" y2="2043.5" stroke="#000" stroke-width="4"/>
<line x1="906.97" y1="1157.5" x2="906.97" y2="1165.1" stroke="#000" stroke-width="4"/>
<line x1="207" y1="2036.5" x2="207" y2="2048.8" stroke="#000" stroke-width="4"/>
<line x1="207" y1="1157.5" x2="207" y2="1170.6" stroke="#000" stroke-width="4"/>
<line x1="334.36" y1="2036.5" x2="334.36" y2="2048.8" stroke="#000" stroke-width="4"/>
<line x1="334.36" y1="1157.5" x2="334.36" y2="1170.6" stroke="#000" stroke-width="4"/>
<line x1="461.72" y1="2036.5" x2="461.72" y2="2048.8" stroke="#000" stroke-width="4"/>
<line x1="461.72" y1="1157.5" x2="461.72" y2="1170.6" stroke="#000" stroke-width="4"/>
<line x1="589.08" y1="2036.5" x2="589.08" y2="2048.8" stroke="#000" stroke-width="4"/>
<line x1="589.08" y1="1157.5" x2="589.08" y2="1170.6" stroke="#000" stroke-width="4"/>
<line x1="716.44" y1="2036.5" x2="716.44" y2="2048.8" stroke="#000" stroke-width="4"/>
<line x1="716.44" y1="1157.5" x2="716.44" y2="1170.6" stroke="#000" stroke-width="4"/>
<line x1="843.8" y1="2036.5" x2="843.8" y2="2048.8" stroke="#000" stroke-width="4"/>
<line x1="843.8" y1="1157.5" x2="843.8" y2="1170.6" stroke="#000" stroke-width="4"/>
<line x1="207" y1="1990.24" x2="199.3" y2="1990.24" stroke="#000" stroke-width="3.2"/>
<line x1="207" y1="1805.18" x2="199.3" y2="1805.18" stroke="#000" stroke-width="3.2"/>
<line x1="207" y1="1620.13" x2="199.3" y2="1620.13" stroke="#000" stroke-width="3.2"/>
<line x1="207" y1="1435.08" x2="199.3" y2="1435.08" stroke="#000" stroke-width="3.2"/>
<line x1="207" y1="1250.03" x2="199.3" y2="1250.03" stroke="#000" stroke-width="3.2"/>
<line x1="207" y1="1897.71" x2="193.6" y2="1897.71" stroke="#000" stroke-width="3.2"/>
<line x1="207" y1="1712.66" x2="193.6" y2="1712.66" stroke="#000" stroke-width="3.2"/>
<line x1="207" y1="1527.61" x2="193.6" y2="1527.61" stroke="#000" stroke-width="3.2"/>
<line x1="207" y1="1342.55" x2="193.6" y2="1342.55" stroke="#000" stroke-width="3.2"/>
<line x1="937" y1="1157.5" x2="1642" y2="1157.5" stroke="#000" stroke-width="3.5"/>
<line x1="937" y1="2036.5" x2="1642" y2="2036.5" stroke="#000" stroke-width="3.5"/>
<line x1="939" y1="1157.5" x2="939" y2="2036.5" stroke="#000" stroke-width="4.0"/>
<line x1="1640" y1="1157.5" x2="1640" y2="2036.5" stroke="#000" stroke-width="4.0"/>
<line x1="1002.73" y1="2036.5" x2="1002.73" y2="2043.5" stroke="#000" stroke-width="4"/>
<line x1="1002.73" y1="1157.5" x2="1002.73" y2="1165.1" stroke="#000" stroke-width="4"/>
<line x1="1130.18" y1="2036.5" x2="1130.18" y2="2043.5" stroke="#000" stroke-width="4"/>
<line x1="1130.18" y1="1157.5" x2="1130.18" y2="1165.1" stroke="#000" stroke-width="4"/>
<line x1="1257.64" y1="2036.5" x2="1257.64" y2="2043.5" stroke="#000" stroke-width="4"/>
<line x1="1257.64" y1="1157.5" x2="1257.64" y2="1165.1" stroke="#000" stroke-width="4"/>
<line x1="1385.09" y1="2036.5" x2="1385.09" y2="2043.5" stroke="#000" stroke-width="4"/>
<line x1="1385.09" y1="1157.5" x2="1385.09" y2="1165.1" stroke="#000" stroke-width="4"/>
<line x1="1512.55" y1="2036.5" x2="1512.55" y2="2043.5" stroke="#000" stroke-width="4"/>
<line x1="1512.55" y1="1157.5" x2="1512.55" y2="1165.1" stroke="#000" stroke-width="4"/>
<line x1="1640" y1="2036.5" x2="1640" y2="2043.5" stroke="#000" stroke-width="4"/>
<line x1="1640" y1="1157.5" x2="1640" y2="1165.1" stroke="#000" stroke-width="4"/>
<line x1="939" y1="2036.5" x2="939" y2="2048.8" stroke="#000" stroke-width="4"/>
<line x1="939" y1="1157.5" x2="939" y2="1170.6" stroke="#000" stroke-width="4"/>
<line x1="1066.45" y1="2036.5" x2="1066.45" y2="2048.8" stroke="#000" stroke-width="4"/>
<line x1="1066.45" y1="1157.5" x2="1066.45" y2="1170.6" stroke="#000" stroke-width="4"/>
<line x1="1193.91" y1="2036.5" x2="1193.91" y2="2048.8" stroke="#000" stroke-width="4"/>
<line x1="1193.91" y1="1157.5" x2="1193.91" y2="1170.6" stroke="#000" stroke-width="4"/>
<line x1="1321.36" y1="2036.5" x2="1321.36" y2="2048.8" stroke="#000" stroke-width="4"/>
<line x1="1321.36" y1="1157.5" x2="1321.36" y2="1170.6" stroke="#000" stroke-width="4"/>
<line x1="1448.82" y1="2036.5" x2="1448.82" y2="2048.8" stroke="#000" stroke-width="4"/>
<line x1="1448.82" y1="1157.5" x2="1448.82" y2="1170.6" stroke="#000" stroke-width="4"/>
<line x1="1576.27" y1="2036.5" x2="1576.27" y2="2048.8" stroke="#000" stroke-width="4"/>
<line x1="1576.27" y1="1157.5" x2="1576.27" y2="1170.6" stroke="#000" stroke-width="4"/>
<line x1="1640" y1="1948.6" x2="1647" y2="1948.6" stroke="#000" stroke-width="3.3"/>
<line x1="1640" y1="1772.8" x2="1647" y2="1772.8" stroke="#000" stroke-width="3.3"/>
<line x1="1640" y1="1597" x2="1647" y2="1597" stroke="#000" stroke-width="3.3"/>
<line x1="1640" y1="1421.2" x2="1647" y2="1421.2" stroke="#000" stroke-width="3.3"/>
<line x1="1640" y1="1245.4" x2="1647" y2="1245.4" stroke="#000" stroke-width="3.3"/>
<line x1="1640" y1="2036.5" x2="1652.3" y2="2036.5" stroke="#000" stroke-width="3.3"/>
<line x1="1640" y1="1860.7" x2="1652.3" y2="1860.7" stroke="#000" stroke-width="3.3"/>
<line x1="1640" y1="1684.9" x2="1652.3" y2="1684.9" stroke="#000" stroke-width="3.3"/>
<line x1="1640" y1="1509.1" x2="1652.3" y2="1509.1" stroke="#000" stroke-width="3.3"/>
<line x1="1640" y1="1333.3" x2="1652.3" y2="1333.3" stroke="#000" stroke-width="3.3"/>
</svg>
</body></html>
